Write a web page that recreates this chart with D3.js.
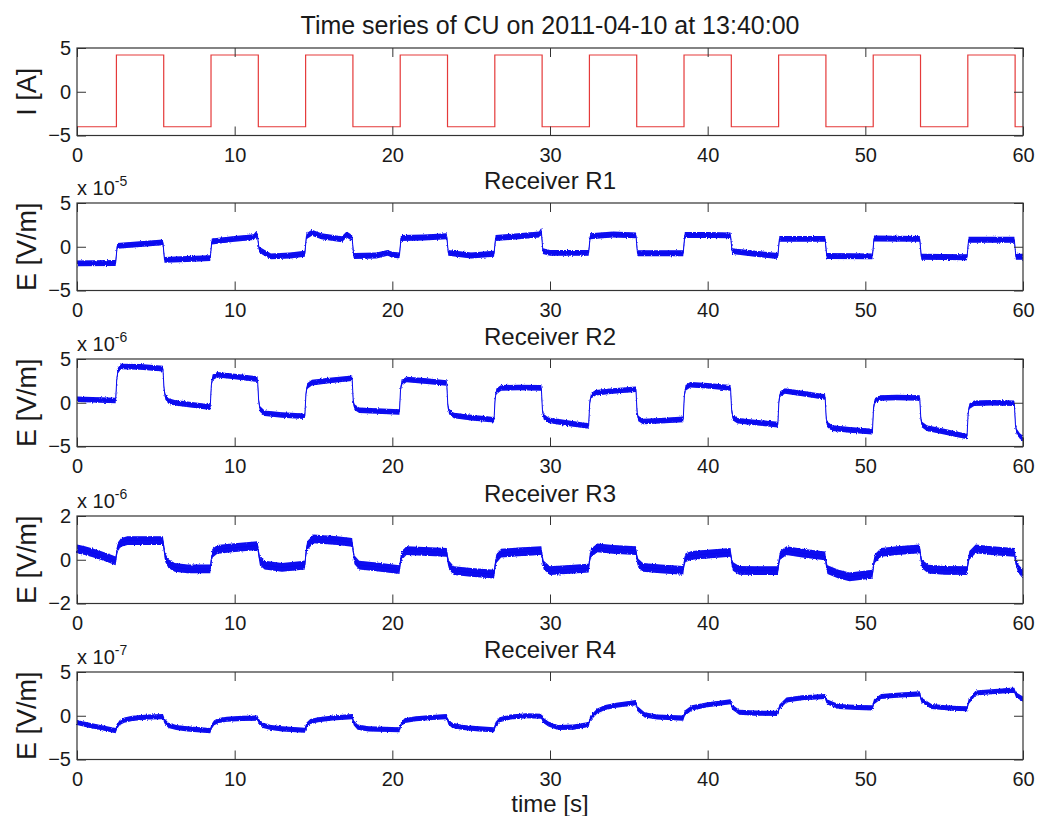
<!DOCTYPE html>
<html>
<head>
<meta charset="utf-8">
<script src="https://cdn.jsdelivr.net/npm/d3@7"></script>
<style>
  body { margin: 0; background: #fff; }
  text { font-family: "Liberation Sans", Arial, sans-serif; fill: #1a1a1a; }
</style>
</head>
<body>
<script>
// ---- data ----
const xTicks = [0, 10, 20, 30, 40, 50, 60];

// transmitter current [A], step-after
const current = [
  [0, -4.0], [2.5, 4.2], [5.5, -4.0], [8.5, 4.2], [11.5, -4.0], [14.5, 4.2],
  [17.5, -4.0], [20.5, 4.2], [23.5, -4.0], [26.5, 4.2], [29.5, -4.0], [32.5, 4.2],
  [35.5, -4.0], [38.5, 4.2], [41.5, -4.0], [44.5, 4.2], [47.5, -4.0], [50.5, 4.2],
  [53.5, -4.0], [56.5, 4.2], [59.5, -4.0], [60, -4.0]
];

// receiver R1, x 1e-5 V/m
const r1 = [
  [0, -1.9], [2.45, -1.85],
  [2.55, 0.1], [4, 0.3], [5.45, 0.5],
  [5.55, -1.5], [7, -1.4], [8.45, -1.3],
  [8.55, 0.6], [10, 0.9], [11.2, 1.1], [11.35, 1.4], [11.45, 1.2],
  [11.55, -0.3], [11.8, -0.6], [12.3, -1.1], [13.5, -1.0], [14.45, -0.8],
  [14.55, 1.2], [14.9, 1.6], [15.5, 1.2], [16.8, 0.85], [17.1, 1.4], [17.45, 1.0],
  [17.55, -1.05], [19, -1.0], [19.7, -0.7], [20, -0.9], [20.45, -1.0],
  [20.55, 1.0], [22, 1.05], [23.45, 1.2],
  [23.55, -0.7], [25, -1.0], [26.45, -0.8],
  [26.55, 1.0], [28, 1.2], [29.3, 1.4], [29.45, 1.8],
  [29.55, -0.5], [30, -0.7], [32.45, -0.7],
  [32.55, 1.2], [34, 1.4], [35.45, 1.3],
  [35.55, -0.75], [38.45, -0.75],
  [38.55, 1.35], [40, 1.35], [41.45, 1.3],
  [41.55, -0.5], [43, -0.8], [44.45, -1.05],
  [44.55, 0.9], [47.45, 0.9],
  [47.55, -1.05], [50.45, -1.1],
  [50.55, 0.95], [53.45, 0.9],
  [53.55, -1.15], [56.45, -1.2],
  [56.55, 0.8], [59.45, 0.8],
  [59.55, -1.15], [60, -1.15]
];

// receiver R2, x 1e-6 V/m
const r2 = [
  [0, 0.4], [2.45, 0.25],
  [2.52, 2.6], [2.6, 3.7], [2.8, 4.15], [4, 4.1], [5.45, 3.9],
  [5.52, 1.6], [5.6, 0.7], [5.8, 0.2], [6.2, 0.0], [8.45, -0.5],
  [8.52, 2.0], [8.6, 2.9], [8.9, 3.2], [10, 3.0], [11.45, 2.7],
  [11.52, 0.3], [11.6, -0.7], [11.9, -1.2], [13, -1.4], [14.45, -1.55],
  [14.52, 1.0], [14.6, 1.9], [14.9, 2.3], [16, 2.55], [17.45, 2.8],
  [17.52, 0.2], [17.6, -0.5], [17.9, -0.85], [20.45, -1.05],
  [20.52, 1.5], [20.6, 2.3], [20.9, 2.65], [22, 2.5], [23.45, 2.25],
  [23.52, -0.3], [23.6, -1.0], [23.9, -1.45], [25, -1.7], [26.45, -1.95],
  [26.52, 0.5], [26.6, 1.3], [26.9, 1.7], [28, 1.75], [29.45, 1.7],
  [29.52, -0.8], [29.6, -1.6], [29.9, -2.0], [31, -2.3], [32.45, -2.65],
  [32.52, 0.0], [32.6, 0.8], [32.9, 1.15], [34, 1.35], [35.45, 1.55],
  [35.52, -1.0], [35.6, -1.8], [35.9, -2.15], [37, -2.05], [38.45, -1.9],
  [38.52, 0.8], [38.6, 1.7], [38.9, 2.05], [40, 1.95], [41.45, 1.7],
  [41.52, -0.8], [41.6, -1.7], [41.9, -2.05], [43, -2.25], [44.45, -2.5],
  [44.52, 0.2], [44.6, 1.0], [44.9, 1.35], [46, 1.05], [47.45, 0.65],
  [47.52, -1.8], [47.6, -2.5], [47.9, -2.9], [49, -3.1], [50.45, -3.3],
  [50.52, -0.6], [50.6, 0.2], [50.9, 0.55], [52, 0.6], [53.45, 0.55],
  [53.52, -1.8], [53.6, -2.5], [53.9, -2.9], [55, -3.3], [56.45, -3.85],
  [56.52, -1.2], [56.6, -0.4], [56.9, -0.05], [58, 0.0], [59.45, -0.05],
  [59.52, -2.5], [59.6, -3.3], [59.8, -3.8], [60, -4.1]
];

// receiver R3, x 1e-6 V/m
const r3 = [
  [0, 0.5], [0.5, 0.42], [1, 0.32], [1.5, 0.2], [2, 0.08], [2.45, -0.05],
  [2.52, 0.35], [2.6, 0.6], [2.8, 0.8], [3.2, 0.88], [5.45, 0.88],
  [5.52, 0.5], [5.6, 0.1], [5.8, -0.18], [6.2, -0.35], [7, -0.42], [8.45, -0.42],
  [8.52, 0.0], [8.6, 0.3], [8.9, 0.48], [10, 0.55], [11.45, 0.65],
  [11.52, 0.3], [11.6, -0.05], [11.9, -0.25], [13, -0.35], [14.45, -0.25],
  [14.52, 0.3], [14.6, 0.65], [15, 0.95], [16.5, 0.88], [17.45, 0.8],
  [17.52, 0.4], [17.6, 0.0], [17.9, -0.25], [19, -0.32], [20.45, -0.45],
  [20.52, -0.05], [20.6, 0.2], [20.9, 0.42], [22, 0.38], [23.45, 0.34],
  [23.52, 0.0], [23.6, -0.25], [23.9, -0.5], [25, -0.58], [26.45, -0.66],
  [26.52, -0.25], [26.6, 0.05], [26.9, 0.3], [28, 0.36], [29.45, 0.42],
  [29.52, 0.05], [29.6, -0.25], [30, -0.5], [31, -0.45], [32.45, -0.38],
  [32.52, 0.05], [32.6, 0.3], [33, 0.54], [34, 0.48], [35.45, 0.42],
  [35.52, 0.05], [35.6, -0.15], [35.9, -0.35], [37, -0.42], [38.45, -0.48],
  [38.52, -0.1], [38.6, 0.1], [39, 0.2], [40, 0.26], [41.45, 0.34],
  [41.52, -0.05], [41.6, -0.3], [42, -0.48], [43, -0.5], [44.45, -0.5],
  [44.52, -0.1], [44.6, 0.2], [45, 0.42], [46, 0.3], [47.45, 0.18],
  [47.52, -0.2], [47.6, -0.45], [48.3, -0.66], [49, -0.78], [50.45, -0.66],
  [50.52, -0.25], [50.6, 0.05], [51, 0.34], [52, 0.42], [53.45, 0.5],
  [53.52, 0.1], [53.6, -0.2], [54, -0.43], [55, -0.48], [56.45, -0.5],
  [56.52, -0.1], [56.6, 0.2], [57, 0.5], [58, 0.42], [59.45, 0.34],
  [59.52, 0.0], [59.7, -0.4], [60, -0.66]
];

// receiver R4, x 1e-7 V/m
const r4 = [
  [0, -0.77], [0.8, -1.1], [1.5, -1.35], [2.45, -1.7],
  [2.55, -1.2], [2.7, -0.8], [3.0, -0.5], [3.5, -0.3], [4.5, -0.15], [5.45, -0.1],
  [5.55, -0.6], [5.8, -1.1], [6.3, -1.35], [7, -1.5], [8.45, -1.7],
  [8.55, -1.2], [8.7, -0.8], [9.0, -0.55], [9.5, -0.4], [10.5, -0.3], [11.45, -0.27],
  [11.55, -0.7], [11.8, -1.1], [12.3, -1.35], [13, -1.5], [14.45, -1.65],
  [14.55, -1.1], [14.8, -0.65], [15.3, -0.45], [16.2, -0.25], [17.45, -0.1],
  [17.55, -0.8], [17.8, -1.3], [18.5, -1.5], [20.45, -1.6],
  [20.55, -1.0], [20.8, -0.55], [21.5, -0.35], [22.5, -0.2], [23.45, -0.1],
  [23.55, -0.7], [23.8, -1.1], [24.5, -1.35], [25.5, -1.5], [26.45, -1.6],
  [26.55, -1.0], [26.8, -0.45], [27.5, -0.15], [28.5, 0.0], [29.45, -0.05],
  [29.55, -0.5], [29.9, -0.95], [30.5, -1.35], [31.5, -1.3], [32.45, -1.0],
  [32.55, -0.3], [33, 0.55], [33.5, 0.95], [34.2, 1.2], [35.45, 1.5],
  [35.55, 0.8], [36, 0.1], [36.8, -0.15], [38.45, -0.27],
  [38.55, 0.3], [39, 0.9], [40, 1.25], [41.45, 1.6],
  [41.55, 1.0], [42, 0.4], [43, 0.3], [44.45, 0.27],
  [44.55, 1.0], [45, 1.8], [46, 2.05], [47.45, 2.2],
  [47.55, 1.6], [48.3, 1.05], [49.5, 0.95], [50.45, 0.9],
  [50.55, 1.6], [51, 2.2], [52, 2.35], [53.45, 2.5],
  [53.55, 1.8], [54.2, 1.05], [55.5, 0.85], [56.45, 0.8],
  [56.55, 1.6], [57, 2.6], [58, 2.75], [59.2, 2.9], [59.45, 2.9],
  [59.55, 2.4], [60, 1.9]
];

const panelTitles = ["Time series of CU on 2011-04-10 at 13:40:00", "Receiver R1", "Receiver R2", "Receiver R3", "Receiver R4"];
const yLabels = ["I [A]", "E [V/m]", "E [V/m]", "E [V/m]", "E [V/m]"];
const yDomains = [[-5, 5], [-5, 5], [-5, 5], [-2, 2], [-5, 5]];
const yTickValues = [[-5, 0, 5], [-5, 0, 5], [-5, 0, 5], [-2, 0, 2], [-5, 0, 5]];
const exponents = [null, "-5", "-6", "-6", "-7"];
const series = [current, r1, r2, r3, r4];
const noiseHalfWidth = [0, 0.34, 0.32, 0.2, 0.29];

// ---- layout ----
const W = 1038, H = 816;
const left = 77, right = 1023;
const tops = [48, 203, 359, 516, 672];
const ph = 87.5;
const tickLen = 9;

const svg = d3.select("body").append("svg")
    .attr("width", W)
    .attr("height", H);

// jagged edges for the noisy receiver traces
const filt = svg.append("defs").append("filter")
    .attr("id", "fuzz")
    .attr("x", "-1%").attr("y", "-30%")
    .attr("width", "102%").attr("height", "160%");
filt.append("feTurbulence")
    .attr("type", "fractalNoise")
    .attr("baseFrequency", "1.2 0.6")
    .attr("numOctaves", 1)
    .attr("seed", 7)
    .attr("result", "t");
filt.append("feDisplacementMap")
    .attr("in", "SourceGraphic")
    .attr("in2", "t")
    .attr("scale", 3)
    .attr("xChannelSelector", "R")
    .attr("yChannelSelector", "G");

const x = d3.scaleLinear().domain([0, 60]).range([left, right]);

series.forEach((data, i) => {
    const top = tops[i];
    const y = d3.scaleLinear().domain(yDomains[i]).range([top + ph, top]);
    const g = svg.append("g");

    // trace
    if (i === 0) {
        g.append("path")
            .datum(data)
            .attr("fill", "none")
            .attr("stroke", "#e53a3a")
            .attr("stroke-width", 1.2)
            .attr("d", d3.line().x(d => x(d[0])).y(d => y(d[1])).curve(d3.curveStepAfter));
    } else {
        const hw = noiseHalfWidth[i];
        g.append("path")
            .datum(data)
            .attr("fill", "#0808f0")
            .attr("filter", "url(#fuzz)")
            .attr("d", d3.area()
                .x(d => x(d[0]))
                .y0(d => y(d[1] - hw))
                .y1(d => y(d[1] + hw)));
        g.append("path")
            .datum(data)
            .attr("fill", "none")
            .attr("stroke", "#0808f0")
            .attr("stroke-width", 1)
            .attr("d", d3.line().x(d => x(d[0])).y(d => y(d[1])));
    }

    // axes, ticks pointing inward on all four sides
    const styleAxis = sel => {
        sel.select(".domain").remove();
        sel.selectAll("line").attr("stroke", "#333");
        sel.selectAll("text")
            .style("font-size", "20px")
            .style("font-family", "'Liberation Sans', Arial, sans-serif")
            .attr("fill", "#1a1a1a");
    };

    g.append("g")
        .attr("transform", `translate(0,${top + ph})`)
        .call(d3.axisBottom(x).tickValues(xTicks).tickSize(-tickLen).tickPadding(12).tickFormat(d3.format("d")))
        .call(styleAxis);
    g.append("g")
        .attr("transform", `translate(0,${top})`)
        .call(d3.axisTop(x).tickValues(xTicks).tickSize(-tickLen).tickFormat(""))
        .call(styleAxis);
    g.append("g")
        .attr("transform", `translate(${left},0)`)
        .call(d3.axisLeft(y).tickValues(yTickValues[i]).tickSize(-tickLen).tickPadding(6).tickFormat(d3.format("d")))
        .call(styleAxis);
    g.append("g")
        .attr("transform", `translate(${right},0)`)
        .call(d3.axisRight(y).tickValues(yTickValues[i]).tickSize(-tickLen).tickFormat(""))
        .call(styleAxis);

    // box
    g.append("rect")
        .attr("x", left)
        .attr("y", top)
        .attr("width", right - left)
        .attr("height", ph)
        .attr("fill", "none")
        .attr("stroke", "#333")
        .attr("stroke-width", 1.2);

    // title
    g.append("text")
        .attr("x", (left + right) / 2)
        .attr("y", top - 14)
        .attr("text-anchor", "middle")
        .style("font-size", i === 0 ? "25px" : "24px")
        .text(panelTitles[i]);

    // y label
    g.append("text")
        .attr("transform", `translate(36,${top + ph / 2}) rotate(-90)`)
        .attr("text-anchor", "middle")
        .style("font-size", "27px")
        .text(yLabels[i]);

    // exponent
    if (exponents[i]) {
        const t = g.append("text")
            .attr("x", left)
            .attr("y", top - 8)
            .style("font-size", "20px");
        t.append("tspan").text("x 10");
        t.append("tspan")
            .attr("dy", -9)
            .style("font-size", "14px")
            .text(exponents[i]);
    }
});

svg.append("text")
    .attr("x", (left + right) / 2)
    .attr("y", 812)
    .attr("text-anchor", "middle")
    .style("font-size", "24px")
    .text("time [s]");
</script>
</body>
</html>
